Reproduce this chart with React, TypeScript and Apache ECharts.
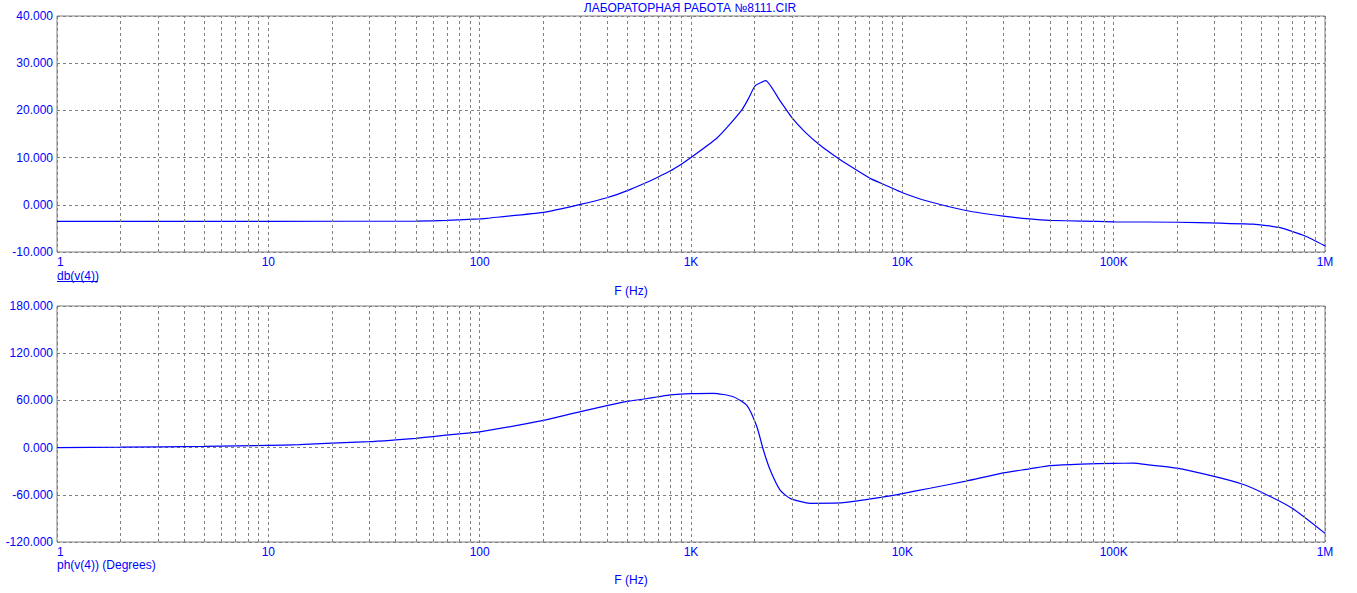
import React, { useEffect, useRef } from "react";
import * as echarts from "echarts";

const title = "ЛАБОРАТОРНАЯ РАБОТА №8111.CIR";
const topYLabel = "db(v(4))";
const bottomYLabel = "ph(v(4)) (Degrees)";
const xTitle = "F (Hz)";

const freqDb = [1, 10, 50, 70, 100, 108, 200, 300, 400, 500, 600, 700, 800, 900, 1000, 1324, 1503, 1740, 1870, 2010, 2260, 2641, 3009, 3467, 4083, 4805, 5660, 7040, 8380, 10090, 13100, 20000, 30000, 40000, 50000, 70000, 100000, 200000, 319000, 457000, 614000, 806000, 1000000];
const dbValues = [-3.5, -3.5, -3.45, -3.3, -3.0, -2.86, -1.6, 0.1, 1.5, 3.0, 4.5, 5.9, 7.2, 8.6, 10.0, 14.1, 16.7, 20.1, 22.5, 25.2, 26.3, 22.0, 18.4, 15.4, 12.6, 10.3, 8.2, 5.6, 4.1, 2.5, 0.8, -1.2, -2.4, -3.0, -3.3, -3.45, -3.6, -3.7, -3.9, -4.1, -4.85, -6.6, -8.7];

const freqPh = [1, 2, 5, 10, 14, 20, 30, 40, 50, 60, 80, 100, 200, 300, 400, 500, 600, 700, 800, 1000, 1275, 1585, 1835, 2050, 2200, 2370, 2640, 2945, 3660, 5250, 7850, 10000, 13500, 20000, 30000, 40000, 50000, 70000, 100000, 124000, 146000, 199000, 302000, 404000, 503000, 697000, 1000000];
const phValues = [0, 0.5, 1.5, 2.9, 3.7, 5.8, 7.5, 9.8, 11.8, 14, 17.5, 20, 34.6, 45.8, 53.3, 58.7, 61.8, 64.6, 67, 68.7, 69, 64.7, 54, 26.6, -3, -28.5, -54, -64.5, -70.8, -70, -63.4, -58.4, -51.7, -42.6, -32.1, -27.1, -23, -20.9, -20, -19.8, -22, -26.2, -37, -46.3, -57, -76.8, -109];

const minorGrid = [2, 3, 4, 5, 6, 7, 8, 9, 20, 30, 40, 50, 60, 70, 80, 90, 200, 300, 400, 500, 600, 700, 800, 900, 2000, 3000, 4000, 5000, 6000, 7000, 8000, 9000, 20000, 30000, 40000, 50000, 60000, 70000, 80000, 90000, 200000, 300000, 400000, 500000, 600000, 700000, 800000, 900000];

const BLUE = "#0000ff";
const GRAY = "#808080";
const FONT = "Liberation Sans";

function xFmt(v: number) {
  const m: Record<string, string> = { "1": "1", "10": "10", "100": "100", "1000": "1K", "10000": "10K", "100000": "100K", "1000000": "1M" };
  const k = String(Math.round(v));
  return m[k] ?? "";
}

export default function App() {
  const ref = useRef<HTMLDivElement>(null);
  useEffect(() => {
    if (!ref.current) return;
    const chart = echarts.init(ref.current, undefined, { renderer: "svg" });
    const dashed = { color: GRAY, type: [3, 3] as any, width: 1 };
    const mkX = (gridIndex: number) => ({
      type: "log" as const,
      logBase: 10,
      gridIndex,
      min: 1,
      max: 1000000,
      axisLine: { show: false },
      axisTick: { show: false },
      splitLine: { show: true, lineStyle: dashed },
      axisLabel: {
        color: BLUE,
        fontFamily: FONT,
        fontSize: 12,
        margin: 4,
        alignMinLabel: "left",
        formatter: (v: number) => xFmt(v),
      },
    });
    const mkY = (gridIndex: number, min: number, max: number, interval: number) => ({
      type: "value" as const,
      gridIndex,
      min,
      max,
      interval,
      axisLine: { show: false },
      axisTick: { show: false },
      splitLine: { show: true, lineStyle: dashed },
      axisLabel: {
        color: BLUE,
        fontFamily: FONT,
        fontSize: 12,
        margin: 4,
        formatter: (v: number) => v.toFixed(3),
      },
    });
    const markLine = {
      silent: true,
      symbol: ["none", "none"],
      label: { show: false },
      lineStyle: dashed,
      data: minorGrid.map((v) => ({ xAxis: v })),
    };
    chart.setOption({
      animation: false,
      grid: [
        { left: 57, right: 32, top: 16, height: 236, show: true, borderColor: GRAY, borderWidth: 1, backgroundColor: "transparent" },
        { left: 57, right: 32, top: 306, height: 236, show: true, borderColor: GRAY, borderWidth: 1, backgroundColor: "transparent" },
      ],
      xAxis: [mkX(0), mkX(1)],
      yAxis: [mkY(0, -10, 40, 10), mkY(1, -120, 180, 60)],
      series: [
        {
          type: "line",
          xAxisIndex: 0,
          yAxisIndex: 0,
          data: freqDb.map((f, i) => [f, dbValues[i]]),
          showSymbol: false,
          smooth: 0.15,
          lineStyle: { color: BLUE, width: 1.2 },
          markLine,
        },
        {
          type: "line",
          xAxisIndex: 1,
          yAxisIndex: 1,
          data: freqPh.map((f, i) => [f, phValues[i]]),
          showSymbol: false,
          smooth: 0.2,
          lineStyle: { color: BLUE, width: 1.2 },
          markLine,
        },
      ],
      graphic: [
        { type: "text", x: 690, y: 8, style: { text: title, fill: BLUE, font: `12px ${FONT}`, textAlign: "center", textVerticalAlign: "middle" } },
        { type: "text", x: 57, y: 276, style: { text: topYLabel, fill: BLUE, font: `12px ${FONT}`, textAlign: "left", textVerticalAlign: "middle" } },
        { type: "line", shape: { x1: 57, y1: 281.5, x2: 98, y2: 281.5 }, style: { stroke: BLUE, lineWidth: 1 } },
        { type: "text", x: 631, y: 291, style: { text: xTitle, fill: BLUE, font: `12px ${FONT}`, textAlign: "center", textVerticalAlign: "middle" } },
        { type: "text", x: 57, y: 565, style: { text: bottomYLabel, fill: BLUE, font: `12px ${FONT}`, textAlign: "left", textVerticalAlign: "middle" } },
        { type: "text", x: 631, y: 580, style: { text: xTitle, fill: BLUE, font: `12px ${FONT}`, textAlign: "center", textVerticalAlign: "middle" } },
      ],
    });
    return () => chart.dispose();
  }, []);
  return <div ref={ref} style={{ position: "fixed", left: 0, top: 0, width: 1357, height: 593, background: "#fff" }} />;
}
